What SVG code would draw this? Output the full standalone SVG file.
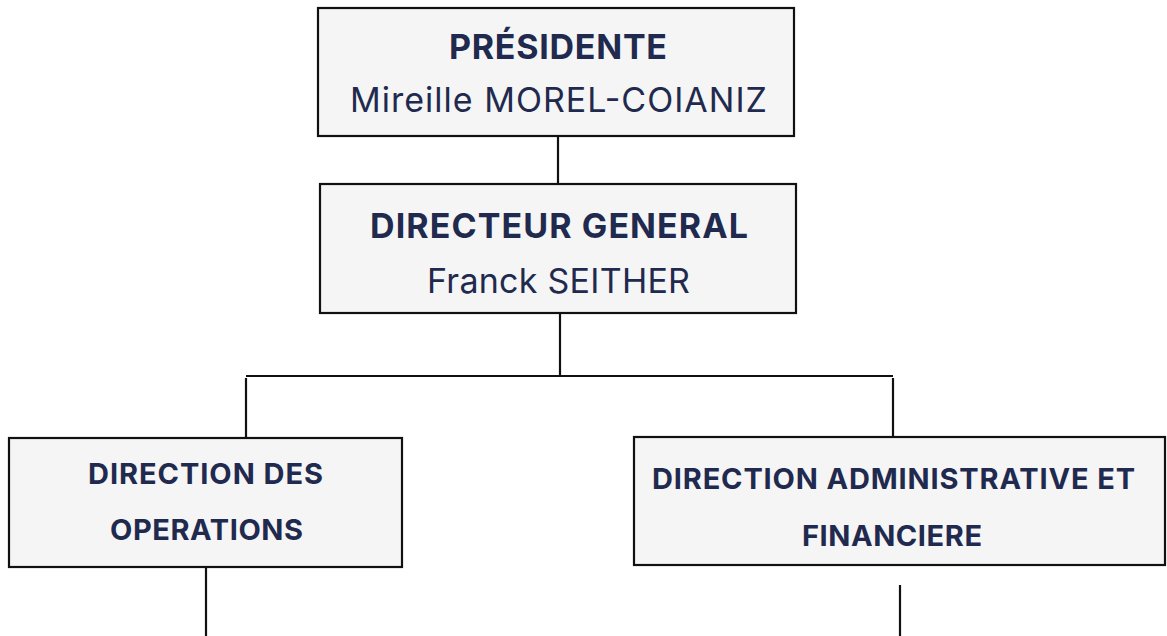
<svg xmlns="http://www.w3.org/2000/svg" width="1167" height="636" viewBox="0 0 1167 636">
<style>
.box{fill:#f5f5f5;stroke:#111;stroke-width:2.2}
.ln{stroke:#111;stroke-width:2.2;fill:none}
text{font-family:Inter,"Noto Sans","Liberation Sans",sans-serif;fill:#1f2a4e;text-anchor:middle}
.b{font-weight:700}
.r{font-weight:400}
</style>
<rect width="1167" height="636" fill="#ffffff"/>
<g id="connectors">
<line class="ln" x1="558" y1="136" x2="558" y2="184"/>
<line class="ln" x1="560" y1="313" x2="560" y2="376"/>
<line class="ln" x1="246" y1="376" x2="893" y2="376"/>
<line class="ln" x1="246" y1="378" x2="246" y2="438"/>
<line class="ln" x1="893" y1="378" x2="893" y2="437"/>
<line class="ln" x1="206" y1="567" x2="206" y2="636"/>
<line class="ln" x1="900" y1="585" x2="900" y2="636"/>
</g>
<g id="presidente">
<rect class="box" x="318" y="8" width="476" height="128"/>
<text class="b" x="558" y="59" font-size="34" textLength="218">PRÉSIDENTE</text>
<text class="r" x="558.5" y="112" font-size="34" textLength="417">Mireille MOREL-COIANIZ</text>
</g>
<g id="directeur-general">
<rect class="box" x="320" y="184" width="476" height="129"/>
<text class="b" x="559" y="238" font-size="34" textLength="378">DIRECTEUR GENERAL</text>
<text class="r" x="558.5" y="293" font-size="34" textLength="263">Franck SEITHER</text>
</g>
<g id="direction-operations">
<rect class="box" x="9" y="438" width="393" height="129"/>
<text class="b" x="205.5" y="484" font-size="29" textLength="235">DIRECTION DES</text>
<text class="b" x="206.5" y="540" font-size="29" textLength="193">OPERATIONS</text>
</g>
<g id="direction-administrative">
<rect class="box" x="634" y="437" width="531" height="128"/>
<text class="b" x="893.5" y="489" font-size="29" textLength="483">DIRECTION ADMINISTRATIVE ET</text>
<text class="b" x="892" y="546" font-size="29" textLength="180">FINANCIERE</text>
</g>
</svg>
